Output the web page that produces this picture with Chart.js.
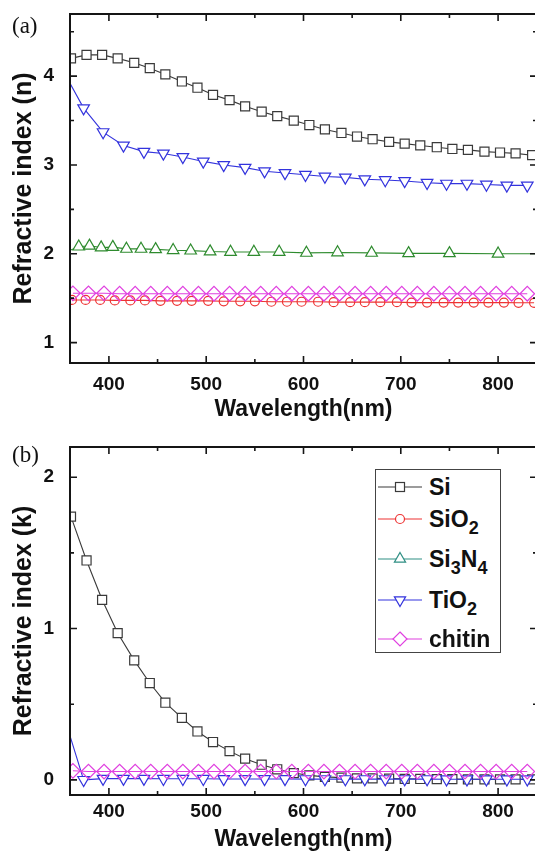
<!DOCTYPE html>
<html>
<head>
<meta charset="utf-8">
<script src="https://cdn.jsdelivr.net/npm/chart.js@4.4.1/dist/chart.umd.min.js"></script>
<style>
html,body{margin:0;padding:0;background:#fff;overflow:hidden;width:535px;height:853px;}
#wrap{position:relative;width:540px;height:853px;overflow:hidden;background:#fff;}
canvas{position:absolute;left:0;}
#c1{top:0;width:540px;height:430px;}
#c2{top:430px;width:540px;height:423px;}
.plabel{position:absolute;left:12px;font-family:"Liberation Serif","Times New Roman",serif;font-size:23px;line-height:22px;color:#111;}
#legend{position:absolute;left:375px;top:469px;width:126px;height:184px;border:1px solid #444;box-sizing:border-box;background:#fff;
  font-family:"Liberation Sans",Arial,sans-serif;font-weight:bold;font-size:23px;color:#111;}
.row{position:absolute;left:2px;width:122px;height:30px;}
.row svg{position:absolute;left:0;top:0;}
.row span{position:absolute;left:51px;top:0;line-height:30px;white-space:nowrap;}
.row sub{font-size:18px;vertical-align:-7px;line-height:0;}
</style>
</head>
<body>
<div id="wrap">
  <canvas id="c1" width="540" height="430"></canvas>
  <canvas id="c2" width="540" height="423"></canvas>
  <div class="plabel" style="top:15px;">(a)</div>
  <div class="plabel" style="top:444px;">(b)</div>
  <div id="legend">
    <div class="row" style="top:2px;"><svg width="46" height="30"><line x1="0" y1="15" x2="44" y2="15" stroke="#3a3a3a" stroke-width="1.2"/><rect x="17.5" y="10.5" width="9" height="9" fill="#fff" stroke="#3a3a3a" stroke-width="1.2"/></svg><span>Si</span></div>
    <div class="row" style="top:34px;"><svg width="46" height="30"><line x1="0" y1="15" x2="44" y2="15" stroke="#ee3333" stroke-width="1.2"/><circle cx="22" cy="15" r="4.5" fill="#fff" stroke="#ee3333" stroke-width="1.2"/></svg><span>SiO<sub>2</sub></span></div>
    <div class="row" style="top:74px;"><svg width="46" height="30"><line x1="0" y1="15" x2="44" y2="15" stroke="#2f8f84" stroke-width="1.2"/><polygon points="22,8.5 27.6,18.2 16.4,18.2" fill="#fff" stroke="#2f8f84" stroke-width="1.2"/></svg><span>Si<sub>3</sub>N<sub>4</sub></span></div>
    <div class="row" style="top:115px;"><svg width="46" height="30"><line x1="0" y1="15" x2="44" y2="15" stroke="#3333dd" stroke-width="1.2"/><polygon points="22,21.5 27.6,11.8 16.4,11.8" fill="#fff" stroke="#3333dd" stroke-width="1.2"/></svg><span>TiO<sub>2</sub></span></div>
    <div class="row" style="top:154px;"><svg width="46" height="30"><line x1="0" y1="15" x2="44" y2="15" stroke="#e040e0" stroke-width="1.2"/><polygon points="22,8 29,15 22,22 15,15" fill="#fff" stroke="#e040e0" stroke-width="1.2"/></svg><span>chitin</span></div>
  </div>
</div>
<script>
// ---------- data ----------
const seriesNames = ['Si', 'SiO2', 'Si3N4', 'TiO2', 'chitin'];

const xTicks = [400, 500, 600, 700, 800];
const xMinorTicks = [450, 550, 650, 750];
const nTicks = [1, 2, 3, 4];
const nMinorTicks = [1.5, 2.5, 3.5, 4.5];
const kTicks = [0, 1, 2];
const kMinorTicks = [0.5, 1.5];

// Si
const siWl = [361,377,393,409,426,442,458,475,491,507,524,540,557,573,590,606,622,639,655,671,688,704,720,737,753,769,786,802,818,835];
const siN  = [4.20,4.24,4.24,4.20,4.15,4.09,4.02,3.94,3.87,3.79,3.73,3.66,3.60,3.55,3.50,3.45,3.40,3.36,3.32,3.29,3.26,3.24,3.22,3.20,3.18,3.17,3.15,3.14,3.13,3.11];
const siK  = [1.74,1.45,1.19,0.97,0.79,0.64,0.51,0.41,0.32,0.25,0.19,0.14,0.10,0.07,0.045,0.03,0.02,0.015,0.01,0.01,0.008,0.007,0.006,0.005,0.005,0.004,0.004,0.003,0.003,0.003];

// SiO2
const sio2Wl = [362,376,391,406,422,437,453,470,485,502,518,535,550,567,583,598,615,631,648,663,679,696,711,727,744,759,775,790,806,821,837];
const sio2N  = [1.48,1.48,1.48,1.475,1.475,1.475,1.47,1.47,1.47,1.47,1.465,1.465,1.465,1.46,1.46,1.46,1.46,1.455,1.455,1.455,1.455,1.455,1.45,1.45,1.45,1.45,1.45,1.45,1.45,1.448,1.448];

// Si3N4 (first and last entries are line ends without a symbol)
const si3n4Wl = [360,369,380,392,404,418,433,448,466,484,504,525,549,575,603,635,670,708,750,800,840];
const si3n4N  = [2.04,2.08,2.09,2.07,2.075,2.055,2.055,2.05,2.04,2.035,2.025,2.02,2.02,2.02,2.01,2.015,2.01,2.005,2.005,2.0,2.0];

// TiO2 (first entry is the line start without a symbol)
const tio2Wl = [360,374,394,415,436,456,476,497,518,540,560,581,602,622,643,663,684,704,727,747,768,788,809,830];
const tio2N  = [3.92,3.64,3.37,3.22,3.15,3.13,3.09,3.04,3.00,2.97,2.93,2.91,2.89,2.87,2.86,2.84,2.83,2.82,2.80,2.79,2.79,2.78,2.77,2.77];
const tio2K  = [0.29,0.00,0.008,0.008,0.008,0.007,0.007,0.007,0.006,0.006,0.006,0.006,0.005,0.005,0.005,0.005,0.005,0.005,0.005,0.004,0.004,0.004,0.004,0.004];

// chitin
const chitinWl = [363,379,395,411,427,443,460,476,492,508,524,540,556,572,588,605,621,637,653,669,685,701,717,734,750,766,782,798,814,830];
const chitinN  = [1.555,1.555,1.555,1.55,1.55,1.55,1.55,1.55,1.55,1.55,1.55,1.55,1.55,1.55,1.55,1.55,1.55,1.55,1.55,1.55,1.55,1.55,1.55,1.55,1.55,1.55,1.55,1.55,1.55,1.55];
const chitinK  = [0.06,0.055,0.055,0.055,0.055,0.055,0.055,0.055,0.055,0.055,0.055,0.055,0.055,0.055,0.055,0.055,0.055,0.055,0.055,0.055,0.055,0.055,0.055,0.055,0.055,0.055,0.055,0.055,0.055,0.055];

// ---------- styling ----------
const colors = { Si:'#3a3a3a', SiO2:'#ee3333', Si3N4:'#2e8b2e', TiO2:'#3333dd', chitin:'#e040e0' };
const FONT = '"Liberation Sans", Arial, sans-serif';

function pts(xs, ys) { return xs.map((x, i) => ({ x: x, y: ys[i] })); }
function radii(n, r, hiddenIdx) { return Array.from({ length: n }, (_, i) => hiddenIdx.includes(i) ? 0 : r); }

function ds(name, data, style, radius, order, fill) {
  return {
    label: name,
    data: data,
    borderColor: colors[name],
    borderWidth: 1.1,
    tension: 0,
    pointStyle: style.s,
    pointRotation: style.rot || 0,
    pointRadius: radius,
    pointBorderColor: colors[name],
    pointBorderWidth: 1.2,
    pointBackgroundColor: fill,
    order: order
  };
}

function framePlugin(yMajor, yMinor) {
  return {
    id: 'frameTicks',
    afterDraw(chart) {
      const ctx = chart.ctx, a = chart.chartArea;
      const xs = chart.scales.x, ys = chart.scales.y;
      ctx.save();
      ctx.strokeStyle = '#151515';
      ctx.lineWidth = 2;
      ctx.strokeRect(a.left, a.top, a.right - a.left, a.bottom - a.top);
      ctx.lineWidth = 1.6;
      ctx.beginPath();
      const seg = (x1, y1, x2, y2) => { ctx.moveTo(x1, y1); ctx.lineTo(x2, y2); };
      xTicks.forEach(v => { const p = xs.getPixelForValue(v); seg(p, a.bottom, p, a.bottom - 7); seg(p, a.top, p, a.top + 7); });
      xMinorTicks.forEach(v => { const p = xs.getPixelForValue(v); seg(p, a.bottom, p, a.bottom - 4); seg(p, a.top, p, a.top + 4); });
      yMajor.forEach(v => { const p = ys.getPixelForValue(v); seg(a.left, p, a.left + 7, p); seg(a.right, p, a.right - 7, p); });
      yMinor.forEach(v => { const p = ys.getPixelForValue(v); seg(a.left, p, a.left + 4, p); seg(a.right, p, a.right - 4, p); });
      ctx.stroke();
      ctx.restore();
    }
  };
}

function options(c) {
  return {
    responsive: false,
    animation: false,
    events: [],
    layout: { autoPadding: false, padding: { top: c.padTop, right: 3, bottom: 0, left: 0 } },
    plugins: { legend: { display: false }, tooltip: { enabled: false } },
    scales: {
      x: {
        type: 'linear', min: 360, max: 840,
        afterBuildTicks: s => { s.ticks = xTicks.map(v => ({ value: v })); },
        afterFit: s => { s.height = c.xHeight; s.paddingLeft = 0; s.paddingRight = 0; },
        grid: { display: false }, border: { display: false },
        ticks: { color: '#111', padding: c.xTickPad, maxRotation: 0, autoSkip: false,
                 font: { family: FONT, size: 19, weight: 'bold' } },
        title: { display: true, text: 'Wavelength(nm)', color: '#111',
                 font: { family: FONT, size: 23, weight: 'bold' },
                 padding: { top: 0, bottom: c.xTitlePad } }
      },
      y: {
        type: 'linear', min: c.yMin, max: c.yMax,
        afterBuildTicks: s => { s.ticks = c.yTicks.map(v => ({ value: v })); },
        afterFit: s => { s.width = 70; s.paddingTop = 0; s.paddingBottom = 0; },
        grid: { display: false }, border: { display: false },
        ticks: { color: '#111', padding: 8, autoSkip: false,
                 font: { family: FONT, size: 19, weight: 'bold' } },
        title: { display: true, text: c.yTitle, color: '#111',
                 font: { family: FONT, size: 25, weight: 'bold' },
                 padding: { top: 9, bottom: 0 } }
      }
    }
  };
}

const SQ = { s: 'rect' }, CI = { s: 'circle' }, TU = { s: 'triangle' }, TD = { s: 'triangle', rot: 180 }, DI = { s: 'rectRot' };

const chartN = new Chart(document.getElementById('c1'), {
  type: 'line',
  data: {
    datasets: [
      ds('Si', pts(siWl, siN), SQ, 6.4, 4, '#fff'),
      ds('SiO2', pts(sio2Wl, sio2N), CI, 4.5, 3, 'rgba(255,255,255,0)'),
      ds('Si3N4', pts(si3n4Wl, si3n4N), TU, 6.7, 2, '#fff'),
      ds('TiO2', pts(tio2Wl, tio2N), TD, 6.7, 1, '#fff'),
      ds('chitin', pts(chitinWl, chitinN), DI, 7.3, 0, 'rgba(255,255,255,0)')
    ].map(d => {
      if (d.label === 'Si3N4') d.pointRadius = radii(si3n4Wl.length, 6.7, [0, si3n4Wl.length - 1]);
      if (d.label === 'TiO2') d.pointRadius = radii(tio2Wl.length, 6.7, [0]);
      return d;
    })
  },
  options: options({ padTop: 14, xHeight: 67, xTickPad: 2, xTitlePad: 7, yMin: 0.77, yMax: 4.7,
                     yTicks: nTicks, yTitle: 'Refractive index (n)' }),
  plugins: [framePlugin(nTicks, nMinorTicks)]
});

const chartK = new Chart(document.getElementById('c2'), {
  type: 'line',
  data: {
    datasets: [
      ds('Si', pts(siWl, siK), SQ, 6.4, 4, '#fff'),
      ds('TiO2', pts(tio2Wl, tio2K), TD, 6.7, 1, '#fff'),
      ds('chitin', pts(chitinWl, chitinK), DI, 7.3, 0, 'rgba(255,255,255,0)')
    ].map(d => {
      if (d.label === 'TiO2') d.pointRadius = radii(tio2Wl.length, 6.7, [0]);
      return d;
    })
  },
  options: options({ padTop: 17, xHeight: 58, xTickPad: -3, xTitlePad: 0, yMin: -0.1, yMax: 2.2,
                     yTicks: kTicks, yTitle: 'Refractive index (k)' }),
  plugins: [framePlugin(kTicks, kMinorTicks)]
});
</script>
</body>
</html>
